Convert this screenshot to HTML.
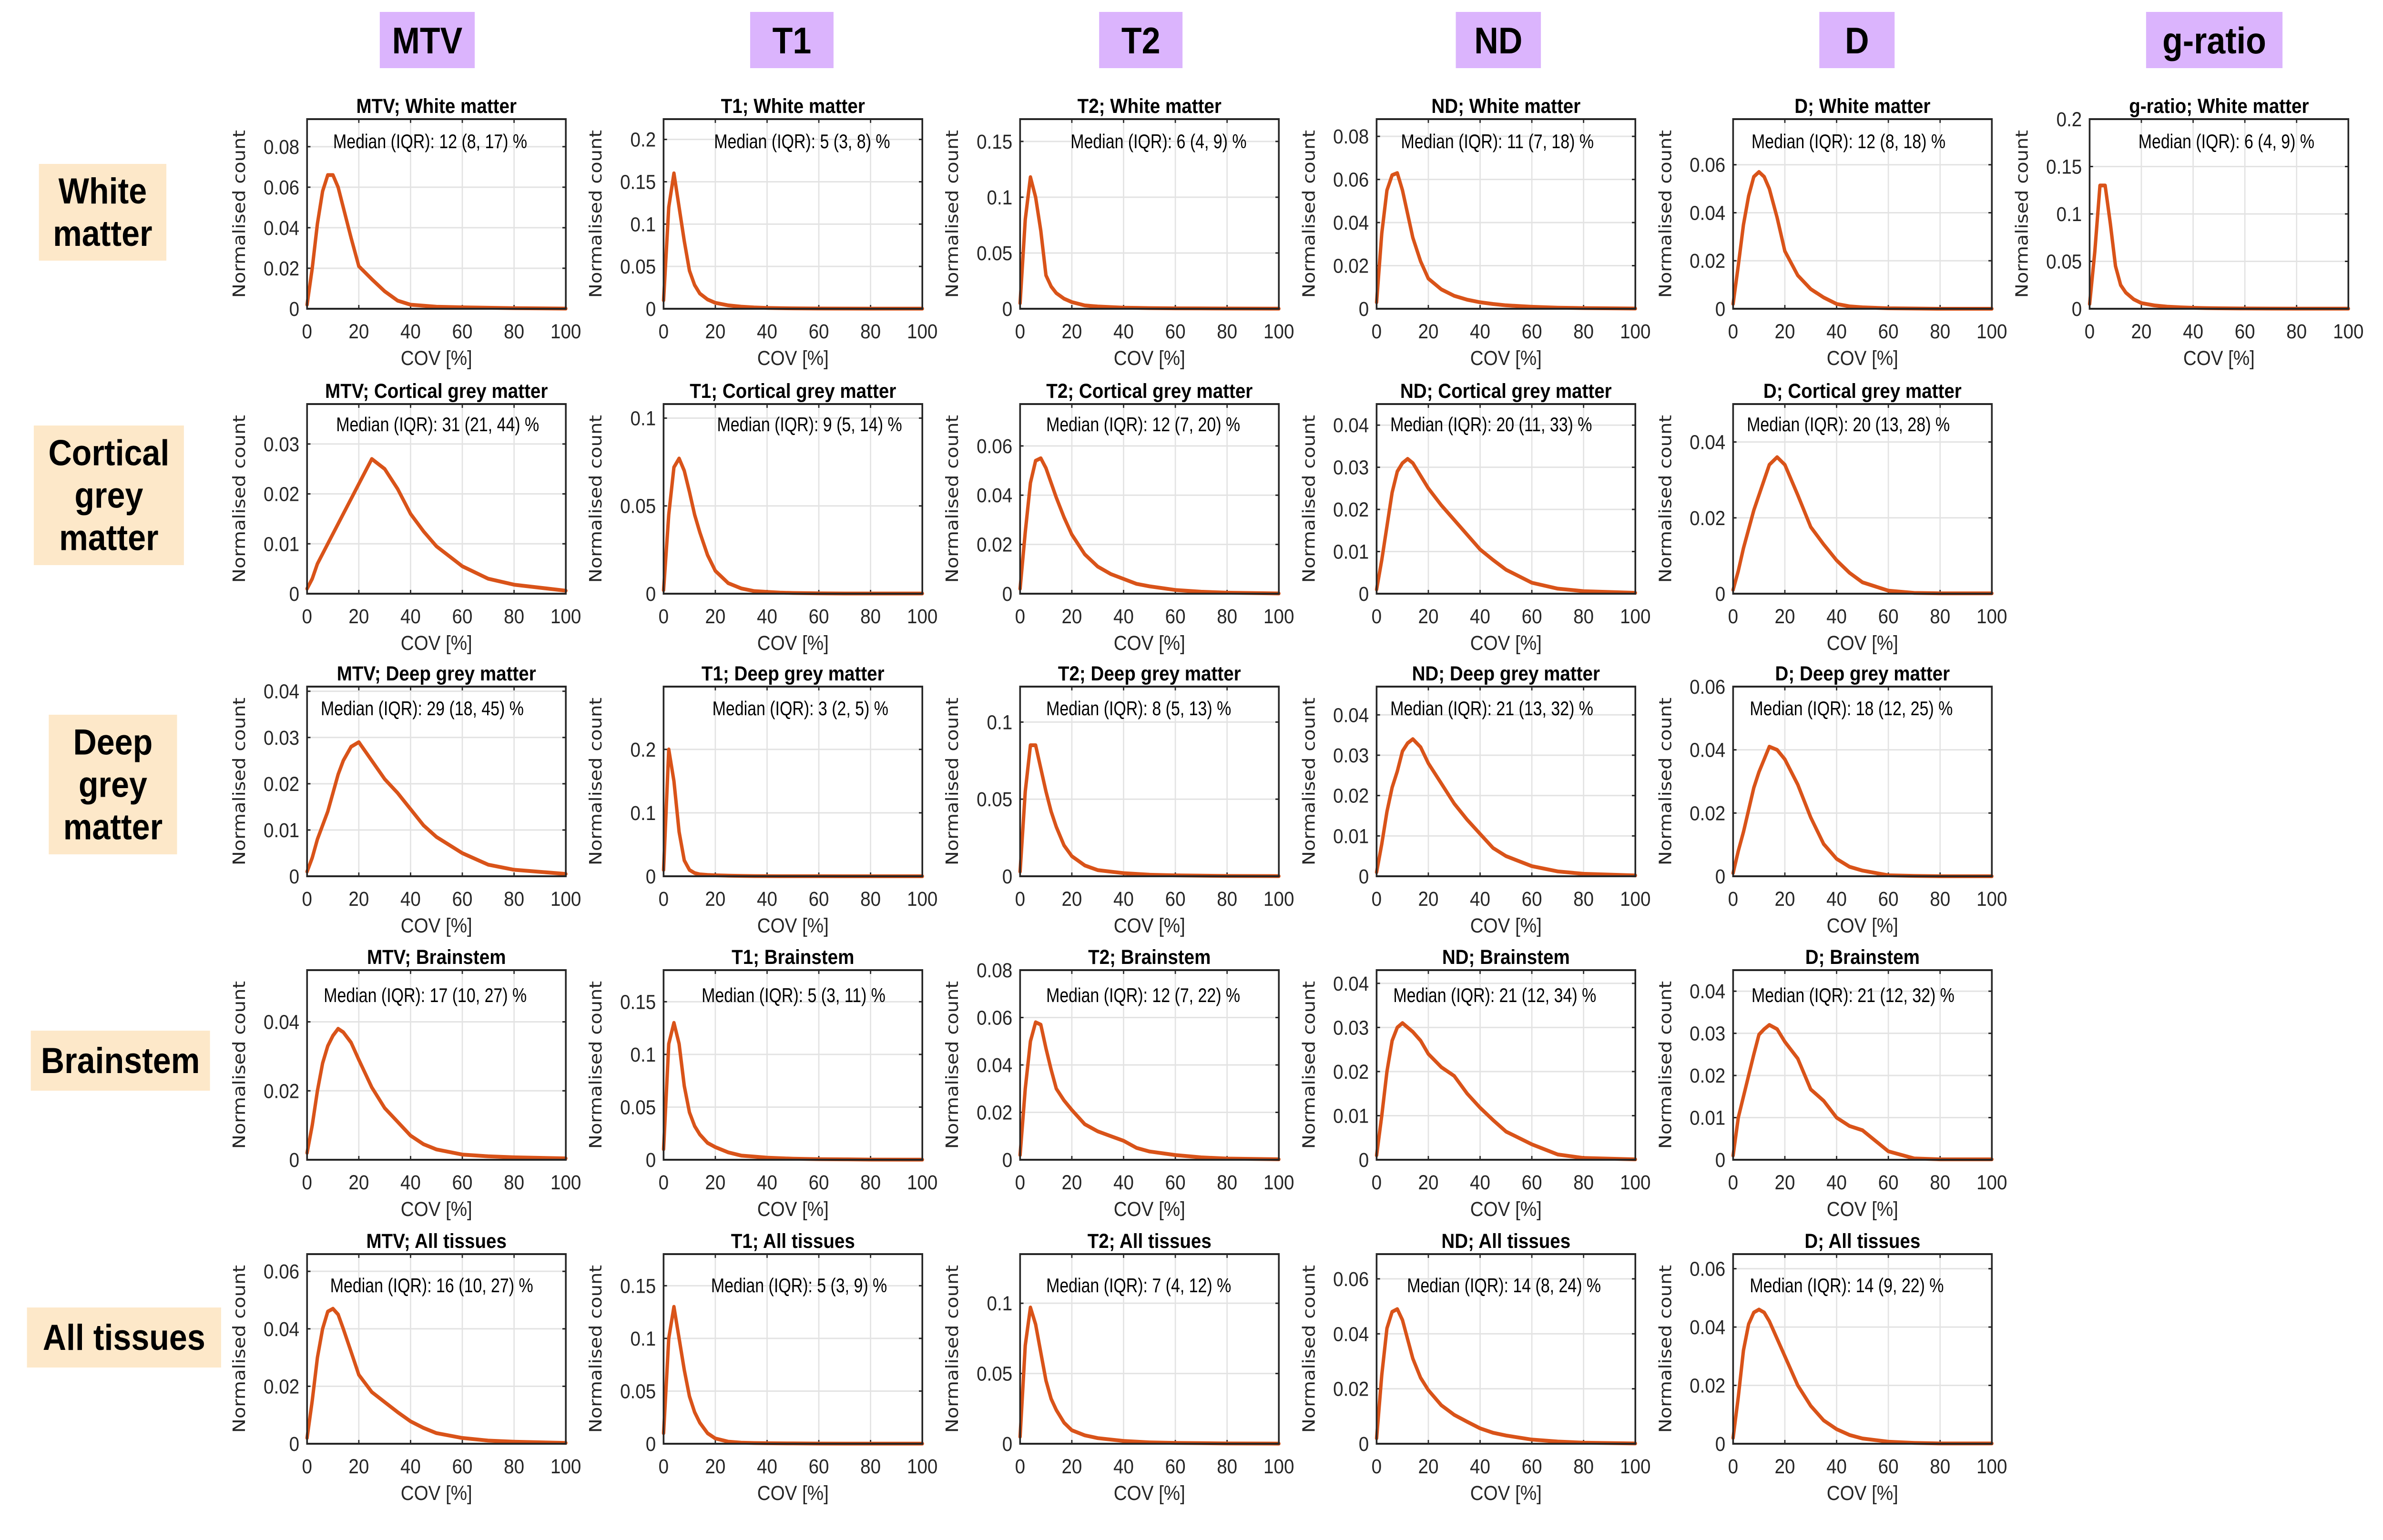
<!DOCTYPE html>
<html><head><meta charset="utf-8">
<style>
html,body{margin:0;padding:0;background:#fff;overflow:hidden;width:100vw;height:100vh;}
svg{display:block;width:100vw;height:100vh;}
</style></head>
<body>
<svg id="fig" xmlns="http://www.w3.org/2000/svg" viewBox="0 0 5572 3232" preserveAspectRatio="none">
<rect x="0" y="0" width="5572" height="3232" fill="#ffffff"/>
</svg>
<script>
// ---- data ----
const cov = [0,2,4,6,8,10,12,14,17,20,25,30,35,40,45,50,60,70,80,100];
const xTicks = [0,20,40,60,80,100];
const columns = ["MTV","T1","T2","ND","D","g-ratio"];
const rows = ["White matter","Cortical grey matter","Deep grey matter","Brainstem","All tissues"];

// White matter
const mtvWM = [0.002,0.020,0.042,0.058,0.066,0.066,0.060,0.050,0.035,0.021,0.0146,0.0086,0.004,0.002,0.0015,0.001,0.0007,0.0005,0.0003,0.0001];
const t1WM  = [0.010,0.120,0.160,0.120,0.080,0.045,0.028,0.018,0.011,0.007,0.004,0.0025,0.0015,0.001,0.0007,0.0005,0.0003,0.0002,0.0001,0.0001];
const t2WM  = [0.005,0.080,0.118,0.100,0.070,0.030,0.020,0.014,0.009,0.006,0.003,0.002,0.0015,0.001,0.0008,0.0006,0.0004,0.0003,0.0002,0.0001];
const ndWM  = [0.003,0.035,0.055,0.062,0.063,0.055,0.044,0.033,0.022,0.014,0.009,0.006,0.0042,0.003,0.0022,0.0016,0.0009,0.0005,0.0003,0.0001];
const dWM   = [0.002,0.018,0.035,0.047,0.055,0.057,0.055,0.050,0.038,0.024,0.0139,0.0082,0.0047,0.002,0.001,0.0006,0.0002,0.0001,0,0];
const gWM   = [0.005,0.060,0.130,0.130,0.090,0.045,0.025,0.017,0.010,0.006,0.0035,0.0022,0.0015,0.001,0.0007,0.0005,0.0003,0.0002,0.0001,0.0001];
// Cortical grey matter
const mtvCGM = [0.001,0.003,0.006,0.008,0.010,0.012,0.014,0.016,0.019,0.022,0.027,0.025,0.021,0.016,0.0125,0.0095,0.0055,0.003,0.0018,0.0006];
const t1CGM  = [0.002,0.045,0.072,0.077,0.070,0.058,0.045,0.035,0.022,0.013,0.006,0.003,0.0015,0.001,0.0006,0.0004,0.0002,0.0001,0.0001,0.0001];
const t2CGM  = [0.002,0.025,0.045,0.054,0.055,0.051,0.045,0.039,0.031,0.024,0.016,0.011,0.008,0.006,0.004,0.003,0.0015,0.0008,0.0004,0.0001];
const ndCGM  = [0.001,0.008,0.016,0.024,0.029,0.031,0.032,0.031,0.028,0.025,0.021,0.0175,0.014,0.0105,0.008,0.0057,0.0026,0.0012,0.0006,0.0002];
const dCGM   = [0.001,0.006,0.012,0.017,0.022,0.026,0.030,0.034,0.036,0.034,0.026,0.0176,0.013,0.0088,0.0055,0.003,0.0008,0.0002,0.0001,0.0001];
// Deep grey matter
const mtvDGM = [0.001,0.004,0.008,0.011,0.014,0.018,0.022,0.025,0.028,0.029,0.025,0.021,0.018,0.0145,0.011,0.0085,0.005,0.0025,0.0014,0.0005];
const t1DGM  = [0.010,0.200,0.150,0.070,0.025,0.010,0.005,0.003,0.002,0.0015,0.001,0.0005,0.0003,0.0002,0.0001,0.0001,0.0001,0,0,0];
const t2DGM  = [0.003,0.055,0.085,0.085,0.070,0.055,0.042,0.032,0.020,0.013,0.007,0.004,0.003,0.002,0.0015,0.001,0.0006,0.0004,0.0002,0.0001];
const ndDGM  = [0.001,0.008,0.016,0.022,0.026,0.031,0.033,0.034,0.032,0.028,0.023,0.018,0.014,0.0105,0.007,0.005,0.0025,0.0012,0.0006,0.0002];
const dDGM   = [0.001,0.008,0.014,0.021,0.028,0.033,0.037,0.041,0.040,0.037,0.029,0.0186,0.0102,0.0055,0.003,0.0018,0.0003,0.0001,0,0];
// Brainstem
const mtvBS = [0.002,0.010,0.020,0.028,0.033,0.036,0.038,0.037,0.034,0.029,0.021,0.015,0.011,0.007,0.0045,0.003,0.0015,0.001,0.0007,0.0004];
const t1BS  = [0.010,0.110,0.130,0.110,0.070,0.045,0.032,0.024,0.016,0.012,0.007,0.004,0.003,0.002,0.0015,0.001,0.0006,0.0004,0.0002,0.0001];
const t2BS  = [0.002,0.030,0.050,0.058,0.057,0.047,0.038,0.030,0.025,0.021,0.015,0.012,0.010,0.008,0.005,0.0035,0.002,0.001,0.0005,0.0002];
const ndBS  = [0.001,0.010,0.020,0.027,0.030,0.031,0.030,0.029,0.027,0.024,0.021,0.019,0.015,0.0118,0.009,0.0064,0.0035,0.0012,0.0004,0.0001];
const dBS   = [0.001,0.010,0.015,0.020,0.025,0.0297,0.031,0.032,0.031,0.028,0.024,0.0167,0.014,0.010,0.008,0.007,0.002,0.0003,0.0001,0.0001];
// All tissues
const mtvAll = [0.002,0.015,0.030,0.040,0.046,0.047,0.045,0.040,0.032,0.024,0.018,0.0145,0.011,0.0078,0.0055,0.0037,0.002,0.0011,0.0007,0.0003];
const t1All  = [0.010,0.100,0.130,0.100,0.070,0.045,0.030,0.020,0.010,0.005,0.002,0.001,0.0007,0.0005,0.0004,0.0003,0.0002,0.0001,0.0001,0.0001];
const t2All  = [0.005,0.070,0.097,0.085,0.065,0.045,0.032,0.024,0.015,0.0096,0.006,0.004,0.003,0.002,0.0015,0.001,0.0006,0.0004,0.0002,0.0001];
const ndAll  = [0.002,0.025,0.042,0.048,0.049,0.045,0.038,0.031,0.024,0.0195,0.014,0.0105,0.008,0.0056,0.004,0.003,0.0015,0.0008,0.0004,0.0001];
const dAll   = [0.002,0.016,0.032,0.041,0.045,0.046,0.045,0.042,0.036,0.030,0.020,0.013,0.008,0.005,0.003,0.0018,0.0007,0.0003,0.0001,0.0001];

const seriesGrid = [
  [mtvWM,t1WM,t2WM,ndWM,dWM,gWM],
  [mtvCGM,t1CGM,t2CGM,ndCGM,dCGM],
  [mtvDGM,t1DGM,t2DGM,ndDGM,dDGM],
  [mtvBS,t1BS,t2BS,ndBS,dBS],
  [mtvAll,t1All,t2All,ndAll,dAll]
];
const yMaxGrid = [
  [0.0936,0.224,0.17,0.088,0.079,0.2],
  [0.038,0.108,0.077,0.045,0.05],
  [0.041,0.299,0.123,0.047,0.06],
  [0.055,0.18,0.08,0.043,0.045],
  [0.066,0.18,0.135,0.069,0.065]
];
const yStepGrid = [
  [0.02,0.05,0.05,0.02,0.02,0.05],
  [0.01,0.05,0.02,0.01,0.02],
  [0.01,0.1,0.05,0.01,0.02],
  [0.02,0.05,0.02,0.01,0.01],
  [0.02,0.05,0.05,0.02,0.02]
];
const medianGrid = [
  ["12 (8, 17)","5 (3, 8)","6 (4, 9)","11 (7, 18)","12 (8, 18)","6 (4, 9)"],
  ["31 (21, 44)","9 (5, 14)","12 (7, 20)","20 (11, 33)","20 (13, 28)"],
  ["29 (18, 45)","3 (2, 5)","8 (5, 13)","21 (13, 32)","18 (12, 25)"],
  ["17 (10, 27)","5 (3, 11)","12 (7, 22)","21 (12, 34)","21 (12, 32)"],
  ["16 (10, 27)","5 (3, 9)","7 (4, 12)","14 (8, 24)","14 (9, 22)"]
];

// ---- layout ----
const NS = "http://www.w3.org/2000/svg";
const svg = document.getElementById("fig");
const colLeft = c => 718 + c*833.6;
const rowTop = [250,848,1441,2036,2632];
const AW = 605, AH = 398;
const medOff = [[61,118,118,57,43,114],[68,125,61,32,32],[32,114,61,32,39],[39,89,61,39,43],[54,111,61,71,39]];
const medY = [46,42,45,52,65];
const headerBoxes = [[888,1110],[1754,1949],[2570,2765],[3404,3603],[4254,4430],[5018,5337]];
const rowBoxes = [[91,344,389,547],[79,893,430,1186],[114,1500,414,1793],[72,2163,491,2289],[63,2744,517,2870]];

function mk(tag, attrs, parent){
  const e = document.createElementNS(NS, tag);
  for (const k in attrs) e.setAttribute(k, attrs[k]);
  (parent||svg).appendChild(e);
  return e;
}
function fmt(v){ if (Math.abs(v) < 1e-9) return "0"; return String(+v.toFixed(3)); }

// column headers
columns.forEach((name, c) => {
  const b = headerBoxes[c];
  const g = mk("g", {});
  
  
  mk("rect", {x:b[0], y:25, width:b[1]-b[0], height:118, fill:"#dbb4fd"}, g);
  const t = mk("text", {x:(b[0]+b[1])/2, y:112, "text-anchor":"middle", "font-family":"Liberation Sans, sans-serif", "font-weight":"bold", "font-size":"78", fill:"#000"}, g);
  t.textContent = name;
});

// row headers
rows.forEach((name, r) => {
  const b = rowBoxes[r];
  const g = mk("g", {});
  
  
  mk("rect", {x:b[0], y:b[1], width:b[2]-b[0], height:b[3]-b[1], fill:"#fde8c9"}, g);
  let lines = name === "White matter" ? ["White","matter"] :
              (name === "Brainstem" || name === "All tissues") ? [name] :
              name.split(" ");
  const cx = (b[0]+b[2])/2, cy = (b[1]+b[3])/2;
  const lh = 89;
  lines.forEach((ln, i) => {
    const t = mk("text", {x:cx, y:cy + (i-(lines.length-1)/2)*lh + 26, "text-anchor":"middle", "font-family":"Liberation Sans, sans-serif", "font-weight":"bold", "font-size":"76", fill:"#000"}, g);
    t.textContent = ln;
  });
});

// panels
seriesGrid.forEach((rowSeries, r) => {
  rowSeries.forEach((vals, c) => {
    const L = colLeft(c), T = rowTop[r], B = T + AH, R = L + AW;
    const yMax = yMaxGrid[r][c], step = yStepGrid[r][c];
    const xs = v => L + v/100*AW;
    const ys = v => B - v/yMax*AH;
    const g = mk("g", {});
    
    
    mk("rect", {x:L, y:T, width:AW, height:AH, fill:"#fff"}, g);
    xTicks.forEach(v => {
      const x = xs(v);
      mk("line", {x1:x, y1:T, x2:x, y2:B, stroke:"#e3e3e3", "stroke-width":3}, g);
    });
    const yt = [];
    for (let v = 0; v <= yMax + 1e-9; v += step) yt.push(+v.toFixed(4));
    yt.forEach(v => {
      const y = ys(v);
      mk("line", {x1:L, y1:y, x2:R, y2:y, stroke:"#e3e3e3", "stroke-width":3}, g);
    });
    xTicks.forEach(v => {
      const x = xs(v);
      mk("line", {x1:x, y1:B, x2:x, y2:B-8, stroke:"#262626", "stroke-width":3}, g);
      mk("line", {x1:x, y1:T, x2:x, y2:T+8, stroke:"#262626", "stroke-width":3}, g);
      const t = mk("text", {x:x, y:B+62, "text-anchor":"middle", "font-family":"Liberation Sans, sans-serif", "font-size":"43", fill:"#262626"}, g);
      
      
      t.textContent = String(v);
    });
    yt.forEach(v => {
      const y = ys(v);
      mk("line", {x1:L, y1:y, x2:L+8, y2:y, stroke:"#262626", "stroke-width":3}, g);
      mk("line", {x1:R, y1:y, x2:R-8, y2:y, stroke:"#262626", "stroke-width":3}, g);
      const t = mk("text", {x:L-18, y:y+15, "text-anchor":"end", "font-family":"Liberation Sans, sans-serif", "font-size":"43", fill:"#262626"}, g);
      
      
      t.textContent = fmt(v);
    });
    const pts = cov.map((x, i) => xs(x).toFixed(1) + "," + ys(vals[i]).toFixed(1)).join(" ");
    const pl = mk("polyline", {points:pts, fill:"none", stroke:"#d95319", "stroke-width":8, "stroke-linejoin":"round", "stroke-linecap":"round"}, g);
    
    
    mk("rect", {x:L, y:T, width:AW, height:AH, fill:"none", stroke:"#262626", "stroke-width":4}, g);
    const tt = mk("text", {x:L+AW/2, y:T-13, "text-anchor":"middle", "font-family":"Liberation Sans, sans-serif", "font-weight":"bold", "font-size":"43", fill:"#000"}, g);
    
    
    tt.textContent = columns[c] + "; " + rows[r];
    const mt = mk("text", {x:0, y:0, "font-family":"Liberation Sans, sans-serif", "font-size":"42", fill:"#000",
      transform:"translate(" + (L+medOff[r][c]) + "," + (T+medY[r]+15) + ") scale(0.9,1)"}, g);
    
    
    mt.textContent = "Median (IQR): " + medianGrid[r][c] + " %";
    const xl = mk("text", {x:L+AW/2, y:B+118, "text-anchor":"middle", "font-family":"Liberation Sans, sans-serif", "font-size":"43", fill:"#262626", "xml:space":"preserve"}, g);
    
    
    xl.textContent = "COV  [%]";
    const yl = mk("text", {x:0, y:0, "text-anchor":"middle", "font-family":"DejaVu Sans, sans-serif", "font-size":"40", fill:"#262626",
      transform:"translate(" + (L-145) + "," + (T+AH/2) + ") rotate(-90)"}, g);
    
    
    yl.textContent = "Normalised count";
  });
});
</script>
</body></html>
